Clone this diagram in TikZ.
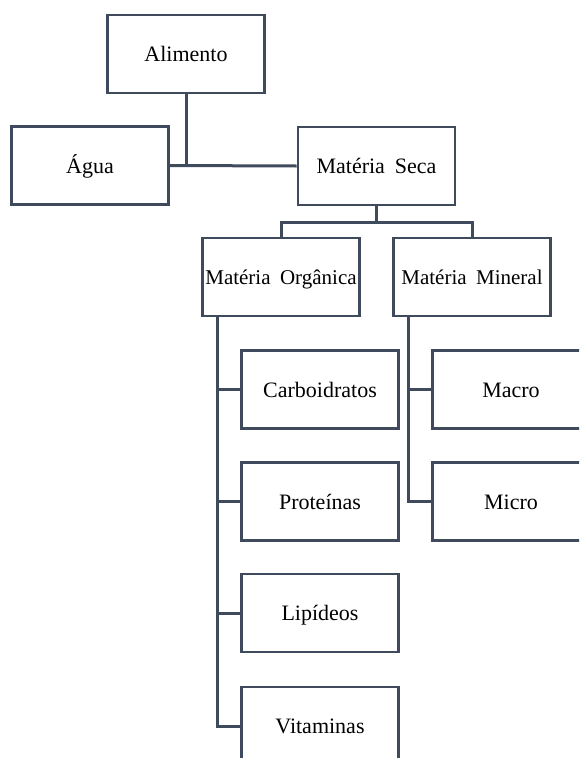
\documentclass[tikz,border=0pt]{standalone}
\usepackage{fontspec}
\setmainfont{Liberation Serif}
\definecolor{edge}{HTML}{3F4A5C}
\newcommand{\gap}{\hspace{0.45em}}
\tikzset{
  box/.style={draw=edge, line width=2.8pt, fill=white, rectangle,
    minimum width=157pt, minimum height=78pt, inner sep=0pt,
    text height=15pt, text depth=0pt,
    font=\fontsize{22}{26}\selectfont, text=black},
  link/.style={draw=edge, line width=3pt, line join=miter}
}
\begin{document}
\begin{tikzpicture}[x=1pt,y=-1pt]
  \useasboundingbox (0,0) rectangle (579,758);
  \clip (0,0) rectangle (579,758);
  % boxes
  \node[box] (alim) at (186,54)    {Alimento};
  \node[box] (agua) at (90,165.5)  {Água};
  \node[box] (seca) at (376.5,166) {Matéria\gap Seca};
  \node[box, font=\fontsize{21}{25}\selectfont] (org)  at (281,277) {Matéria\gap Orgânica};
  \node[box, font=\fontsize{21}{25}\selectfont] (min)  at (472,277) {Matéria\gap Mineral};
  \node[box] (carb) at (320,389.5) {Carboidratos};
  \node[box] (prot) at (320,501.5) {Proteínas};
  \node[box] (lip)  at (320,613)   {Lipídeos};
  \node[box] (vit)  at (320,726)   {Vitaminas};
  \node[box] (macro) at (511,389.5) {Macro};
  \node[box] (micro) at (511,501.5) {Micro};
  % connectors
  \draw[link] (agua.east) -- (seca.west);
  \draw[link] (alim.south) -- (alim.south |- agua.east);
  \draw[link] (seca.south) -- ++(0,16) coordinate (sj);
  \draw[link] (org.north) |- (sj) -| (min.north);
  \draw[link] ([xshift=16pt]org.south west) coordinate (ot) |- (vit.west);
  \draw[link] (ot |- carb.west) -- (carb.west);
  \draw[link] (ot |- prot.west) -- (prot.west);
  \draw[link] (ot |- lip.west) -- (lip.west);
  \draw[link] ([xshift=16pt]min.south west) coordinate (mt) |- (micro.west);
  \draw[link] (mt |- macro.west) -- (macro.west);
\end{tikzpicture}
\end{document}
